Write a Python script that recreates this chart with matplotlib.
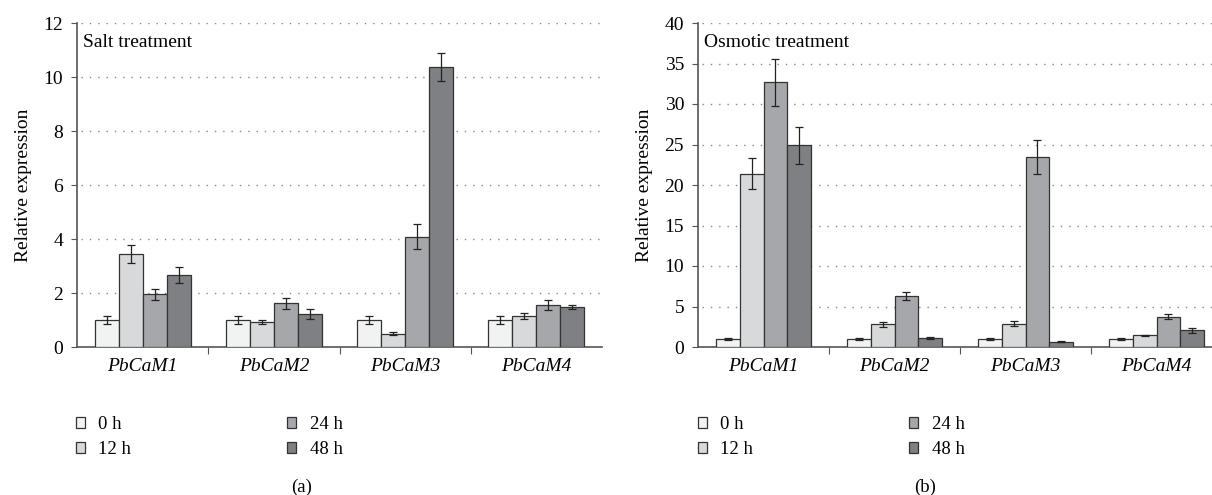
import numpy as np
import matplotlib
matplotlib.use("Agg")
import matplotlib.pyplot as plt
from matplotlib.patches import Patch

plt.rcParams['font.family'] = ['Liberation Serif', 'DejaVu Serif']

genes = ["PbCaM1", "PbCaM2", "PbCaM3", "PbCaM4"]
times = ["0 h", "12 h", "24 h", "48 h"]
colors = ["#f1f2f2", "#d8d9da", "#a6a7aa", "#7f8083"]

# salt treatment, rows = time points, cols = genes
salt = [[1.0, 1.0, 1.0, 1.0],
        [3.45, 0.93, 0.50, 1.15],
        [1.95, 1.62, 4.09, 1.55],
        [2.68, 1.21, 10.38, 1.49]]
salt_err = [[0.16, 0.15, 0.15, 0.15],
            [0.33, 0.08, 0.04, 0.10],
            [0.20, 0.20, 0.45, 0.18],
            [0.30, 0.18, 0.52, 0.07]]

# osmotic treatment
osm = [[1.0, 1.0, 1.0, 1.0],
       [21.4, 2.83, 2.87, 1.42],
       [32.7, 6.3, 23.4, 3.75],
       [24.9, 1.12, 0.67, 2.04]]
osm_err = [[0.10, 0.10, 0.10, 0.10],
           [1.95, 0.30, 0.30, 0.10],
           [2.90, 0.50, 2.10, 0.35],
           [2.30, 0.08, 0.04, 0.25]]

fig = plt.figure(figsize=(12.12, 4.95), dpi=100)
ax1 = fig.add_axes([77/1212, 148/495, 525/1212, 324/495])
ax2 = fig.add_axes([698/1212, 148/495, 524/1212, 324/495])


def draw(ax, vals, errs, ymax, step, title):
    x = np.arange(len(genes))
    w = 0.183
    for i in range(len(times)):
        ax.bar(x + (i - 1.5) * w, vals[i], w, color=colors[i],
               edgecolor="#333333", linewidth=0.9, zorder=3)
        ax.errorbar(x + (i - 1.5) * w, vals[i], yerr=errs[i], fmt="none",
                    ecolor="#222222", elinewidth=0.9, capsize=3, capthick=0.9, zorder=4)
    ax.set_xlim(-0.5, 3.5)
    ax.set_ylim(0, ymax)
    ax.set_yticks(np.arange(0, ymax + 0.01, step))
    for v in np.arange(step, ymax + 0.01, step):
        ax.plot([-0.47, 3.5], [v, v], ls=(0, (1, 5)), color="#888888", lw=1.0, zorder=1)
    ax.set_xticks([0.5, 1.5, 2.5], minor=False)
    ax.set_xticklabels([])
    ax.set_xticks(x, minor=True)
    ax.set_xticklabels(genes, minor=True, style="italic", fontsize=14)
    ax.tick_params(axis="x", which="major", length=5, direction="out", color="#555555")
    ax.tick_params(axis="x", which="minor", length=0, pad=8)
    ax.tick_params(axis="y", length=4, direction="out", color="#555555", labelsize=14, pad=6)
    for s in ["top", "right"]:
        ax.spines[s].set_visible(False)
    ax.spines["left"].set_color("#555555")
    ax.spines["bottom"].set_color("#555555")
    ax.spines["left"].set_linewidth(1.2)
    ax.spines["bottom"].set_linewidth(1.2)
    ax.set_ylabel("Relative expression", fontsize=14, labelpad=8)
    ax.text(0.012, 0.965, title, transform=ax.transAxes, fontsize=14, va="top", ha="left")


draw(ax1, salt, salt_err, 12, 2, "Salt treatment")
draw(ax2, osm, osm_err, 40, 5, "Osmotic treatment")

handles = [Patch(facecolor=c, edgecolor="#333333", linewidth=0.9) for c in colors]
for xa in [76, 698]:
    fig.legend(handles, times, loc="upper left", bbox_to_anchor=(xa/1212, 1 - 416/495),
               ncol=2, frameon=False, fontsize=13.5, handlelength=0.5, handleheight=0.5,
               handletextpad=0.7, columnspacing=8.3, labelspacing=0.45,
               borderpad=0, borderaxespad=0)
fig.text(302/1212, 1 - 487/495, "(a)", ha="center", va="center", fontsize=13.5)
fig.text(925/1212, 1 - 487/495, "(b)", ha="center", va="center", fontsize=13.5)

fig.savefig("out.png", dpi=100)
